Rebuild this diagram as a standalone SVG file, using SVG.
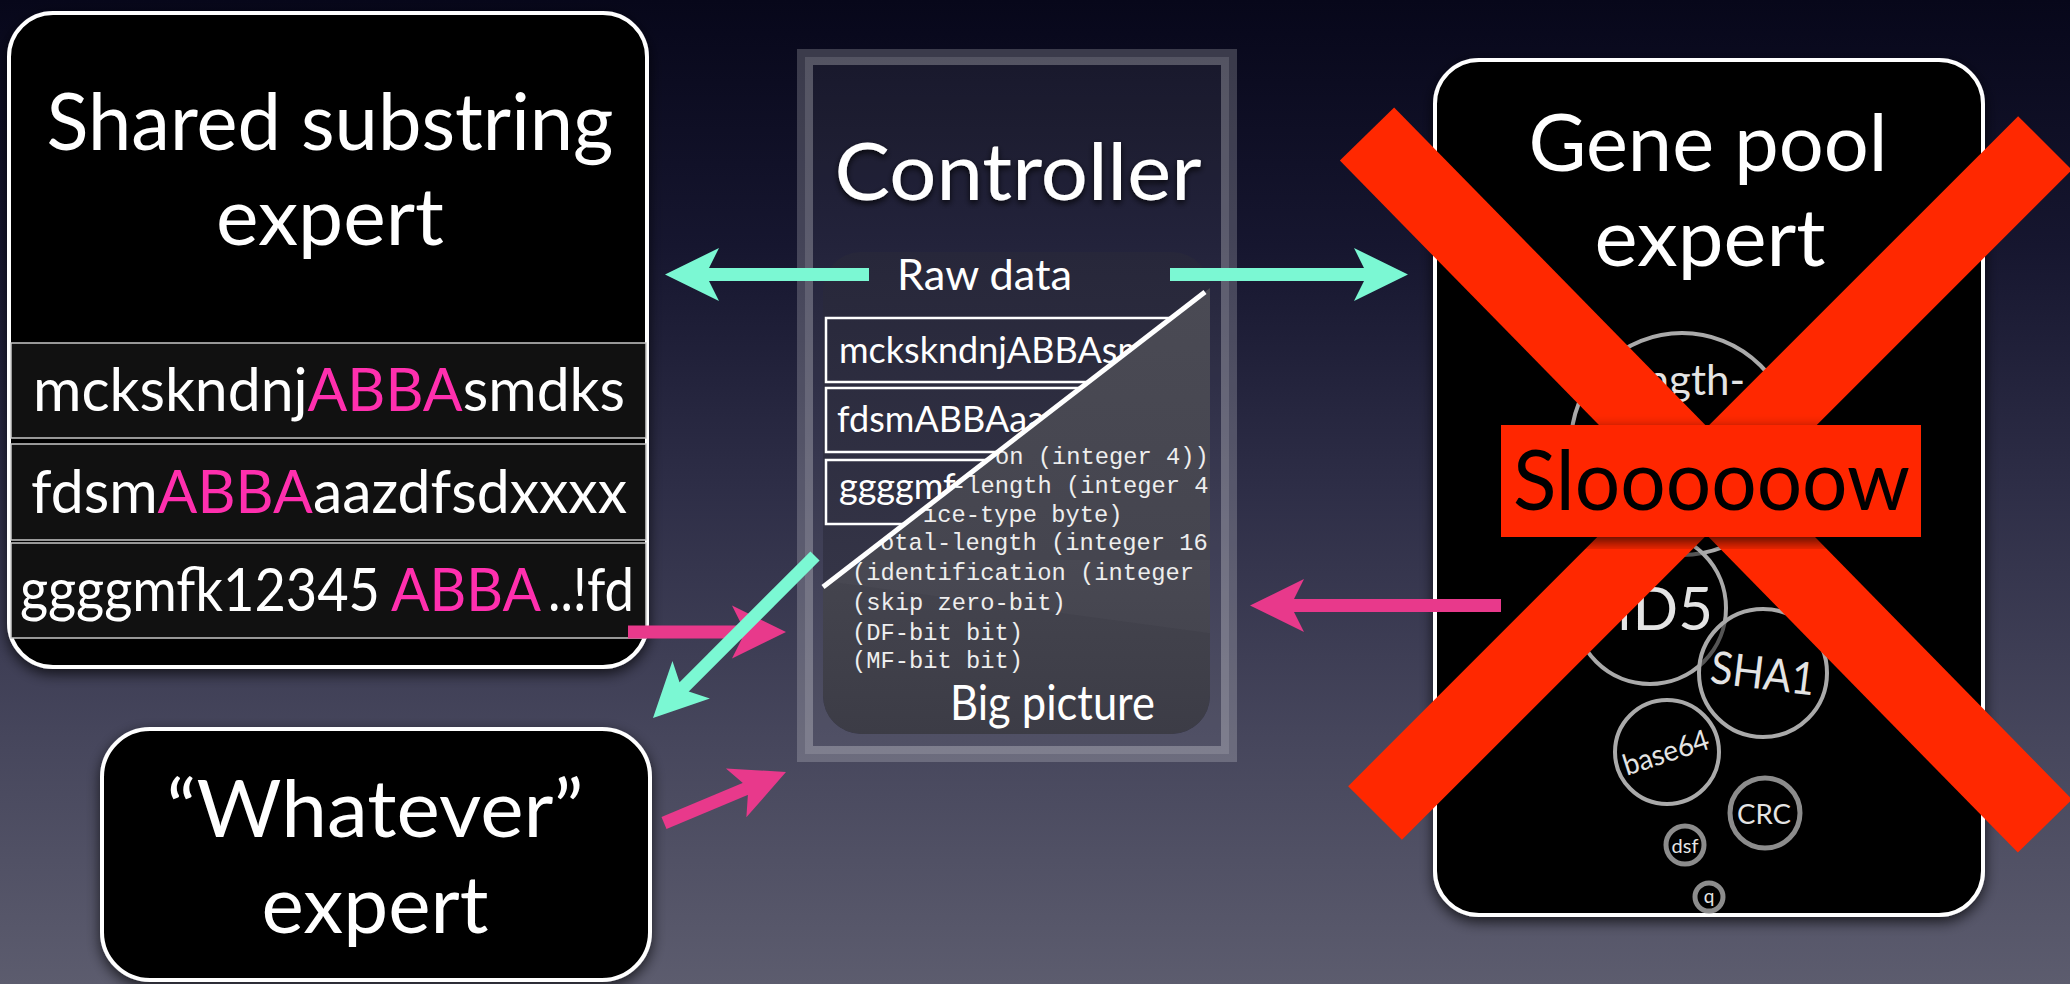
<svg xmlns="http://www.w3.org/2000/svg" width="2070" height="984" viewBox="0 0 2070 984">
  <defs>
    <style>
      .sans { font-family: Lato, "Open Sans", "DejaVu Sans", sans-serif; fill: #ffffff; }
      .title { font-size: 80px; text-anchor: middle; }
      .rowtxt { font-size: 60px; }
      .pink { fill: #ff2fae; }
      .row { fill: #111111; stroke: #c8c8c8; stroke-width: 1.5; }
      .box { fill: #000000; stroke: #ffffff; stroke-width: 4; }
      .crow { fill: none; stroke: #ffffff; stroke-width: 2.5; }
      .ctxt { font-size: 36px; }
      .mono { font-family: "Liberation Mono", "DejaVu Sans Mono", monospace; font-size: 23.75px; fill: #eeeeee; }
      .bubble { fill: #000000; fill-opacity: 0.5; stroke: #aaaaaa; stroke-width: 4; }
      .bubble-sm { fill: #000000; stroke: #8c8c8c; stroke-width: 5; }
      .btxt { fill: #e4e4e4; text-anchor: middle; }
      .shaft-cyan { stroke: #7bf8d3; stroke-width: 13; fill: none; marker-end: url(#headCyan); }
      .shaft-pink { stroke: #e8398b; stroke-width: 13; fill: none; marker-end: url(#headPink); }
      .xbar { stroke: #ff2800; stroke-width: 76; stroke-linecap: butt; }
    </style>
    <linearGradient id="bg" x1="0" y1="0" x2="0" y2="1">
      <stop offset="0" stop-color="#07071a"/>
      <stop offset="0.25" stop-color="#16162f"/>
      <stop offset="0.5" stop-color="#2e2e47"/>
      <stop offset="0.75" stop-color="#46465c"/>
      <stop offset="1" stop-color="#5c5c6e"/>
    </linearGradient>
    <linearGradient id="rawPage" gradientUnits="userSpaceOnUse" x1="0" y1="252" x2="0" y2="620">
      <stop offset="0" stop-color="#27273a"/>
      <stop offset="1" stop-color="#363648"/>
    </linearGradient>
    <linearGradient id="bigPage" gradientUnits="userSpaceOnUse" x1="0" y1="292" x2="0" y2="734">
      <stop offset="0" stop-color="#4a4a54"/>
      <stop offset="0.6" stop-color="#45454f"/>
      <stop offset="1" stop-color="#3c3c46"/>
    </linearGradient>
    <filter id="shadow" x="-10%" y="-10%" width="120%" height="120%">
      <feDropShadow dx="0" dy="5" stdDeviation="7" flood-color="#000000" flood-opacity="0.7"/>
    </filter>
    <filter id="textShadow" x="-10%" y="-20%" width="120%" height="150%">
      <feDropShadow dx="0" dy="3" stdDeviation="3" flood-color="#000000" flood-opacity="0.8"/>
    </filter>
    <clipPath id="rawClip"><polygon points="780,240 1260,240 1260,249.5 780,620.2"/></clipPath>
    <clipPath id="bigClip"><polygon points="1260,249.5 1260,760 780,760 780,620.2"/></clipPath>
    <clipPath id="panelClip"><rect x="823" y="252" width="387" height="482" rx="38"/></clipPath>
    <marker id="headCyan" markerUnits="userSpaceOnUse" viewBox="-12 -28 56 56" markerWidth="56" markerHeight="56" refX="0" refY="0" orient="auto">
      <path d="M43,0 L-11,-26.5 L-1,-6.5 L-1,6.5 L-11,26.5 Z" fill="#7bf8d3"/>
    </marker>
    <marker id="headPink" markerUnits="userSpaceOnUse" viewBox="-12 -28 56 56" markerWidth="56" markerHeight="56" refX="0" refY="0" orient="auto">
      <path d="M43,0 L-11,-26.5 L-1,-6.5 L-1,6.5 L-11,26.5 Z" fill="#e8398b"/>
    </marker>
  </defs>

  <!-- backdrop -->
  <rect x="0" y="0" width="2070" height="984" fill="url(#bg)"/>

  <!-- Shared substring expert -->
  <g id="shared-substring-expert">
    <rect class="box" x="9" y="13" width="638" height="654" rx="44" filter="url(#shadow)"/>
    <text class="sans title" x="330" y="150" textLength="567" lengthAdjust="spacingAndGlyphs">Shared substring</text>
    <text class="sans title" x="330" y="245" textLength="228" lengthAdjust="spacingAndGlyphs">expert</text>
    <rect class="row" x="11" y="343" width="635" height="95"/>
    <rect class="row" x="11" y="444" width="635" height="96"/>
    <rect class="row" x="11" y="543" width="635" height="95"/>
    <text class="sans rowtxt" x="33" y="411" textLength="592" lengthAdjust="spacingAndGlyphs">mckskndnj<tspan class="pink">ABBA</tspan>smdks</text>
    <text class="sans rowtxt" x="31" y="513" textLength="596" lengthAdjust="spacingAndGlyphs">fdsm<tspan class="pink">ABBA</tspan>aazdfsdxxxx</text>
    <text class="sans rowtxt" x="20" y="611" font-size="54" textLength="360" lengthAdjust="spacingAndGlyphs">ggggmfk12345</text>
    <text class="sans rowtxt pink" x="391" y="611" font-size="58" textLength="150" lengthAdjust="spacingAndGlyphs">ABBA</text>
    <text class="sans rowtxt" x="548" y="611" font-size="58" textLength="86" lengthAdjust="spacingAndGlyphs">..!fd</text>
  </g>

  <!-- Whatever expert -->
  <g id="whatever-expert">
    <rect class="box" x="102" y="729" width="548" height="251" rx="48" filter="url(#shadow)"/>
    <text class="sans title" x="375" y="837" textLength="417" lengthAdjust="spacingAndGlyphs">“Whatever”</text>
    <text class="sans title" x="375" y="933" textLength="227" lengthAdjust="spacingAndGlyphs">expert</text>
  </g>

  <!-- Controller -->
  <g id="controller">
    <path d="M797,49 H1237 V762 H797 Z M805,57 V754 H1229 V57 Z" fill="#ffffff" fill-opacity="0.2" fill-rule="evenodd"/>
    <path d="M805,57 H1229 V754 H805 Z M813,65 V746 H1221 V65 Z" fill="#ffffff" fill-opacity="0.3" fill-rule="evenodd"/>
    <rect x="813" y="65" width="408" height="681" fill="#ffffff" fill-opacity="0.06"/>
    <text class="sans title" x="1018" y="200" font-size="82" textLength="367" lengthAdjust="spacingAndGlyphs" filter="url(#textShadow)">Controller</text>

    <!-- inner panel: raw data page folding into the big picture page -->
    <rect x="823" y="252" width="387" height="482" rx="38" fill="url(#rawPage)"/>
    <text class="sans" x="897" y="290" font-size="43" textLength="175" lengthAdjust="spacingAndGlyphs">Raw data</text>
    <g clip-path="url(#rawClip)">
      <rect class="crow" x="826" y="318" width="380" height="64"/>
      <rect class="crow" x="826" y="388" width="380" height="64"/>
      <rect class="crow" x="826" y="460" width="380" height="64"/>
      <text class="sans ctxt" x="839" y="363">mckskndnjABBAsm</text>
      <text class="sans ctxt" x="837" y="432">fdsmABBAaaz</text>
      <text class="sans ctxt" x="839" y="499">ggggmf</text>
    </g>
    <g clip-path="url(#panelClip)">
      <g clip-path="url(#bigClip)">
        <rect x="823" y="252" width="387" height="482" rx="38" fill="url(#bigPage)"/>
        <polygon points="780,560 1260,560 1260,640 780,575" fill="#ffffff" fill-opacity="0.025"/>
        <text class="mono" x="995" y="464">on (integer 4))</text>
        <text class="mono" x="952" y="493">-length (integer 4</text>
        <text class="mono" x="923" y="522">ice-type byte)</text>
        <text class="mono" x="880" y="550">otal-length (integer 16</text>
        <text class="mono" x="852" y="580">(identification (integer</text>
        <text class="mono" x="852" y="610">(skip zero-bit)</text>
        <text class="mono" x="852" y="640">(DF-bit bit)</text>
        <text class="mono" x="852" y="668">(MF-bit bit)</text>
      </g>
    </g>
    <text class="sans" x="950" y="720" font-size="48" textLength="205" lengthAdjust="spacingAndGlyphs">Big picture</text>
    <line x1="1205" y1="292" x2="823" y2="587" stroke="#ffffff" stroke-width="5"/>
  </g>

  <!-- Gene pool expert -->
  <g id="gene-pool-expert">
    <rect class="box" x="1435" y="60" width="548" height="855" rx="44" filter="url(#shadow)"/>
    <text class="sans title" x="1708" y="171" textLength="359" lengthAdjust="spacingAndGlyphs">Gene pool</text>
    <text class="sans title" x="1710" y="266" textLength="231" lengthAdjust="spacingAndGlyphs">expert</text>
    <circle class="bubble" cx="1682" cy="444" r="111"/>
    <text class="sans btxt" x="1745" y="395" font-size="42" style="text-anchor:end">length-</text>
    <circle class="bubble" cx="1650" cy="608" r="76"/>
    <text class="sans btxt" x="1713" y="630" font-size="60" style="text-anchor:end">MD5</text>
    <circle class="bubble" cx="1763" cy="673" r="64"/>
    <text class="sans btxt" x="1761" y="689" font-size="45" textLength="105" lengthAdjust="spacingAndGlyphs" transform="rotate(7 1761 689)">SHA1</text>
    <circle class="bubble" cx="1667" cy="752" r="52"/>
    <text class="sans btxt" x="1669" y="762" font-size="29" textLength="89" lengthAdjust="spacingAndGlyphs" transform="rotate(-18 1669 762)">base64</text>
    <circle class="bubble-sm" cx="1765" cy="813" r="35"/>
    <text class="sans btxt" x="1764" y="824" font-size="27" textLength="54" lengthAdjust="spacingAndGlyphs">CRC</text>
    <circle class="bubble-sm" cx="1685" cy="845" r="19" stroke="#7c7c7c"/>
    <text class="sans btxt" x="1685" y="853" font-size="20">dsf</text>
    <circle class="bubble-sm" cx="1709" cy="897" r="14" stroke="#7c7c7c"/>
    <text class="sans btxt" x="1709" y="903" font-size="19">q</text>
  </g>

  <!-- connectors -->
  <g id="connectors">
    <line class="shaft-cyan" x1="869" y1="274.5" x2="708" y2="274.5"/>
    <line class="shaft-cyan" x1="1170" y1="274.5" x2="1365" y2="274.5"/>
    <line class="shaft-pink" x1="1501" y1="605.5" x2="1293" y2="605.5"/>
    <line class="shaft-pink" x1="628" y1="632" x2="743" y2="632"/>
    <line class="shaft-cyan" x1="815" y1="556" x2="683.4" y2="687.6"/>
    <line class="shaft-pink" x1="664" y1="823" x2="746.3" y2="788.6"/>
  </g>

  <!-- rejection mark over the gene pool expert -->
  <g id="slow-mark">
    <line class="xbar" x1="1367" y1="134" x2="2045" y2="826"/>
    <line class="xbar" x1="2045" y1="143" x2="1375" y2="813"/>
    <rect x="1501" y="425" width="420" height="112" fill="#ff2800" filter="url(#shadow)"/>
    <text x="1513" y="510" font-family="Lato, 'Open Sans', sans-serif" font-size="84" fill="#000000" textLength="397" lengthAdjust="spacingAndGlyphs">Sloooooow</text>
  </g>
</svg>
